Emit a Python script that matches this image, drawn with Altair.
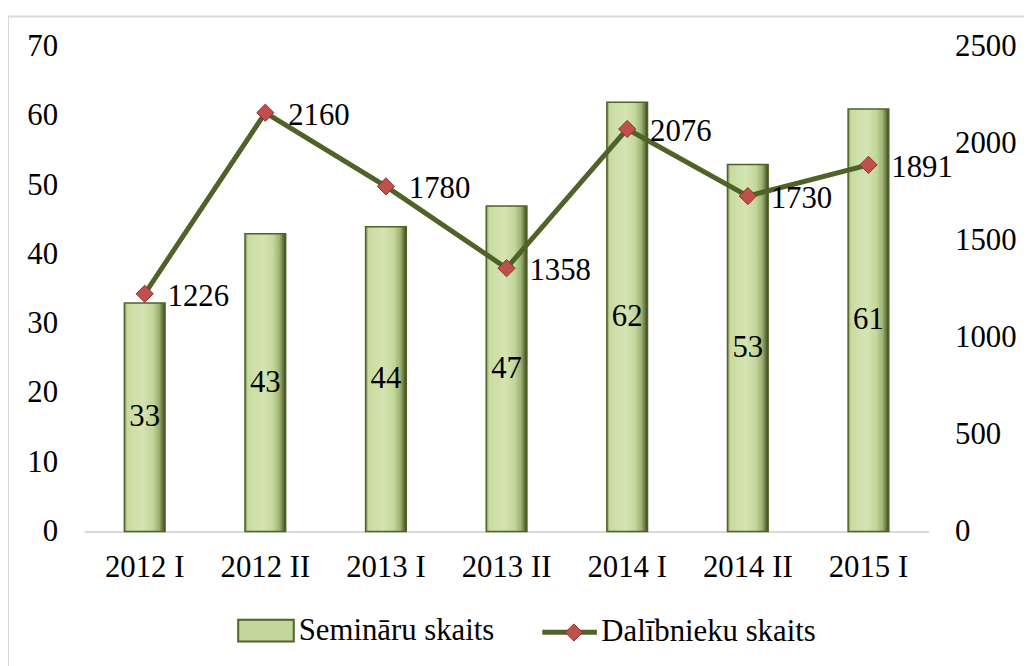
import altair as alt
import pandas as pd

periods = ["2012 I", "2012 II", "2013 I", "2013 II", "2014 I", "2014 II", "2015 I"]
seminars = [33, 43, 44, 47, 62, 53, 61]
participants = [1226, 2160, 1780, 1358, 2076, 1730, 1891]
bar_series = "Semināru skaits"
line_series = "Dalībnieku skaits"
marker_key = "marker"
left_ticks = [0, 10, 20, 30, 40, 50, 60, 70]
right_ticks = [0, 500, 1000, 1500, 2000, 2500]

df = pd.DataFrame({
    "period": periods,
    "seminars": seminars,
    "participants": participants,
    "bs": [bar_series] * len(periods),
    "ls": [line_series] * len(periods),
    "lp": [marker_key] * len(periods),
})

FONT = "Liberation Serif"
FS = 31
BAR_GREEN = "#c3d69b"
OLIVE = "#4f6228"
RED = "#c0504d"

x_enc = alt.X(
    "period:N", sort=periods,
    scale=alt.Scale(paddingInner=0, paddingOuter=0),
    axis=alt.Axis(title=None, labelAngle=0, ticks=False, domainColor="#d9d9d9",
                  domainWidth=2, labelPadding=21, labelFont=FONT, labelFontSize=FS,
                  labelColor="black", grid=False),
)

left_scale = alt.Scale(domain=[0, 70], nice=False)
left_axis = alt.Axis(values=left_ticks, orient="left", title=None, domain=False, ticks=False,
                     grid=False, labelPadding=27, labelFont=FONT, labelFontSize=FS,
                     labelColor="black", format="d")
right_scale = alt.Scale(domain=[0, 2500], nice=False)
right_axis = alt.Axis(values=right_ticks, orient="right", title=None, domain=False, ticks=False,
                      grid=False, labelPadding=26, labelFont=FONT, labelFontSize=FS,
                      labelColor="black", format="d")

base = alt.Chart(df)

bar_gradient = alt.Gradient(
    gradient="linear", x1=0, x2=1, y1=0, y2=0,
    stops=[
        alt.GradientStop(color="#7f9352", offset=0),
        alt.GradientStop(color="#c9dba0", offset=0.07),
        alt.GradientStop(color="#d5e4b2", offset=0.45),
        alt.GradientStop(color="#c3d69b", offset=0.7),
        alt.GradientStop(color="#9fb273", offset=0.85),
        alt.GradientStop(color="#5d6e37", offset=0.95),
        alt.GradientStop(color="#333d1c", offset=1),
    ],
)

bars_flat = base.mark_bar(size=41).encode(
    x=x_enc,
    y=alt.Y("seminars:Q", scale=left_scale, axis=left_axis),
    color=alt.Color("bs:N", scale=alt.Scale(domain=[bar_series], range=[BAR_GREEN]),
                    legend=alt.Legend(orient="none", legendX=154, legendY=559.5, title=None,
                                      symbolType="M-1,-0.39L1,-0.39L1,0.39L-1,0.39Z",
                                      symbolSize=3136, symbolStrokeColor=OLIVE,
                                      symbolStrokeWidth=2, labelFont=FONT, labelFontSize=FS,
                                      labelColor="black", labelOffset=4, padding=0,
                                      labelLimit=500)),
)

bars_grad = base.mark_bar(size=41, fill=bar_gradient, stroke=OLIVE, strokeWidth=1.5).encode(
    x=x_enc,
    y=alt.Y("seminars:Q", scale=left_scale, axis=left_axis),
)

bar_text = base.transform_calculate(half="datum.seminars / 2").mark_text(
    font=FONT, fontSize=FS, color="black", align="center", baseline="middle"
).encode(
    x=x_enc,
    y=alt.Y("half:Q", scale=left_scale, axis=left_axis),
    text=alt.Text("seminars:Q"),
)

bar_group = alt.layer(bars_flat, bars_grad, bar_text)

line = base.mark_line(strokeWidth=5).encode(
    x=x_enc,
    y=alt.Y("participants:Q", scale=right_scale, axis=right_axis),
    stroke=alt.Stroke("ls:N", scale=alt.Scale(domain=[line_series], range=[OLIVE]),
                      legend=alt.Legend(orient="none", legendX=459, legendY=560, title=None,
                                        symbolType="stroke", symbolSize=3025,
                                        symbolStrokeWidth=5, labelFont=FONT, labelFontSize=FS,
                                        labelColor="black", labelOffset=2, padding=0,
                                        labelLimit=500)),
)

points = base.mark_point(shape="diamond", filled=True, size=300, stroke="#8c2f2c",
                         strokeWidth=1, opacity=1).encode(
    x=x_enc,
    y=alt.Y("participants:Q", scale=right_scale, axis=right_axis),
    fill=alt.Fill("lp:N", scale=alt.Scale(domain=[marker_key], range=[RED]),
                  legend=alt.Legend(orient="none", legendX=477.8, legendY=574.8, title=None,
                                    symbolType="diamond", symbolSize=300,
                                    symbolStrokeColor="#8c2f2c", symbolStrokeWidth=1,
                                    labelExpr="''", labelFont=FONT, labelFontSize=FS,
                                    padding=0)),
)

line_text = base.mark_text(font=FONT, fontSize=FS, color="black", align="left",
                           baseline="middle", dx=23, dy=3).encode(
    x=x_enc,
    y=alt.Y("participants:Q", scale=right_scale, axis=right_axis),
    text=alt.Text("participants:Q"),
)

line_group = alt.layer(line, points, line_text)

frame = alt.Chart(pd.DataFrame({"k": [0]})).mark_rect(
    fillOpacity=0, stroke="#d9d9d9", strokeWidth=2
).encode(
    x=alt.value(-77), x2=alt.value(1030), y=alt.value(-30.5), y2=alt.value(680)
)

chart = alt.layer(frame, bar_group, line_group).resolve_scale(
    y="independent", color="independent", fill="independent", stroke="independent"
).properties(
    width=851, height=488.5,
    autosize=alt.AutoSizeParams(type="none"),
    padding={"left": 77, "top": 36.5, "right": 96, "bottom": 133},
    background="white",
).configure_view(stroke=None)

chart.save("out.html", embed_options={"renderer": "svg", "actions": False})
